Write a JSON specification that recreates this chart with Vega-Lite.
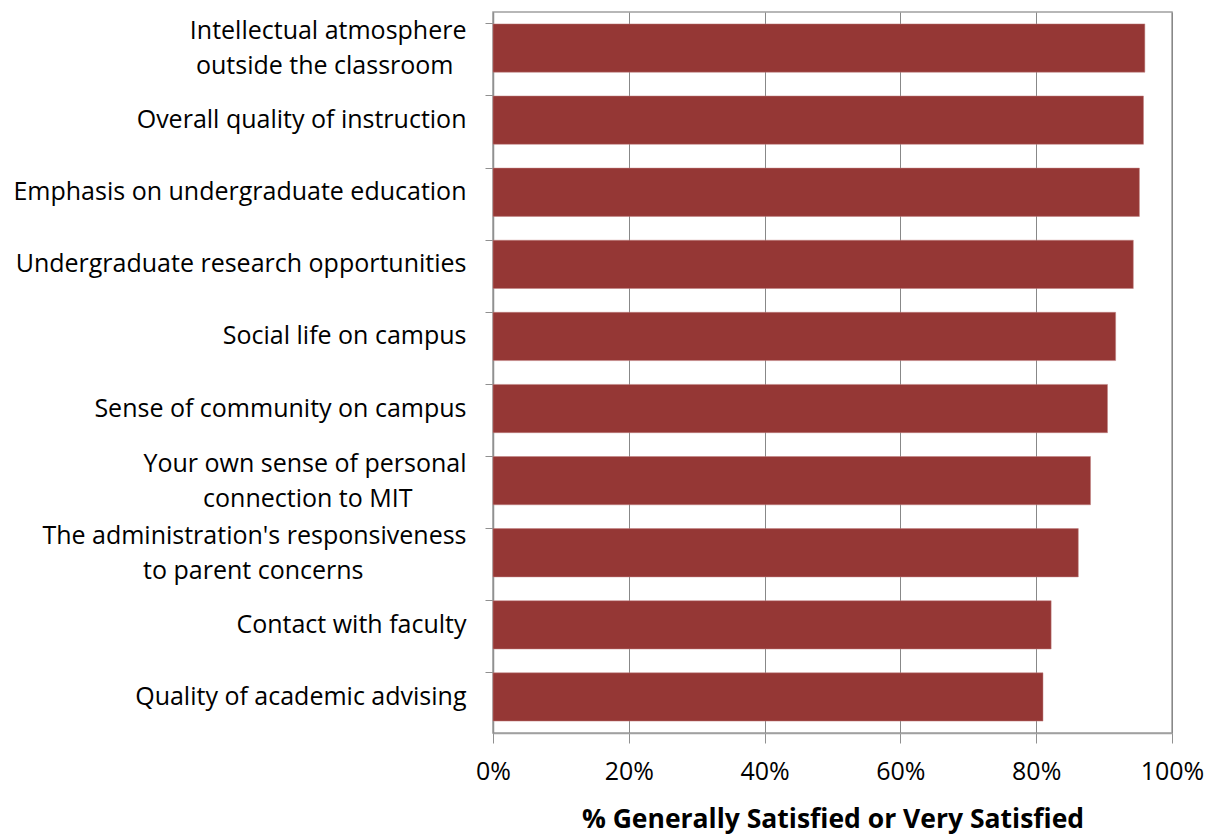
{
  "$schema": "https://vega.github.io/schema/vega-lite/v6.json",
  "autosize": "none",
  "width": 679,
  "height": 721,
  "padding": {"left": 493, "top": 12, "right": 43, "bottom": 101},
  "background": "white",
  "config": {
    "font": "Open Sans",
    "view": {"stroke": "#a0a0a0", "strokeWidth": 1.5}
  },
  "data": {
    "values": [
      {"item": "Intellectual atmosphere|outside the classroom", "pct": 0.960},
      {"item": "Overall quality of instruction", "pct": 0.958},
      {"item": "Emphasis on undergraduate education", "pct": 0.952},
      {"item": "Undergraduate research opportunities", "pct": 0.943},
      {"item": "Social life on campus", "pct": 0.917},
      {"item": "Sense of community on campus", "pct": 0.905},
      {"item": "Your own sense of personal|connection to MIT", "pct": 0.880},
      {"item": "The administration's responsiveness|to parent concerns", "pct": 0.862},
      {"item": "Contact with faculty", "pct": 0.822},
      {"item": "Quality of academic advising", "pct": 0.810}
    ]
  },
  "mark": {"type": "bar", "color": "#953735", "stroke": "#c08080", "strokeWidth": 0.5},
  "encoding": {
    "y": {
      "field": "item",
      "type": "nominal",
      "sort": null,
      "scale": {"paddingInner": 0.33, "paddingOuter": 0.165},
      "axis": {
        "title": null,
        "labelExpr": "length(split(datum.value, '|')) > 1 ? [split(datum.value, '|')[0], split(datum.value, '|')[1] + (indexof(datum.value, 'MIT') >= 0 ? '\u2800\u2800\u2800' : (indexof(datum.value, 'parent') >= 0 ? '\u2800\u2800\u2800\u2800\u2800\u00a0\u00a0\u2060' : '\u00a0\u00a0\u2060'))] : datum.value",
        "labelFont": "Open Sans",
        "labelFontSize": 25,
        "labelColor": "#000000",
        "labelLineHeight": 35,
        "labelOffset": {"condition": {"test": "indexof(datum.value, '|') >= 0", "value": -17}, "value": 0},
        "labelPadding": 19,
        "labelLimit": 0,
        "bandPosition": 0,
        "tickSize": 8,
        "tickColor": "#909090",
        "domainColor": "#909090",
        "domainWidth": 1.5
      }
    },
    "x": {
      "field": "pct",
      "type": "quantitative",
      "scale": {"domain": [0, 1], "nice": false},
      "axis": {
        "title": "% Generally Satisfied or Very Satisfied",
        "format": ".0%",
        "values": [0, 0.2, 0.4, 0.6, 0.8, 1],
        "labelFont": "Open Sans",
        "labelFontSize": 25,
        "labelColor": "#000000",
        "labelFlush": false,
        "labelPadding": 16,
        "tickSize": 10,
        "tickColor": "#909090",
        "domainColor": "#a0a0a0",
        "domainWidth": 1.5,
        "grid": true,
        "gridColor": "#888888",
        "gridWidth": 1,
        "titleFont": "Open Sans",
        "titleFontSize": 26.5,
        "titleFontWeight": "bold",
        "titleColor": "#000000",
        "titlePadding": 22
      }
    }
  }
}
